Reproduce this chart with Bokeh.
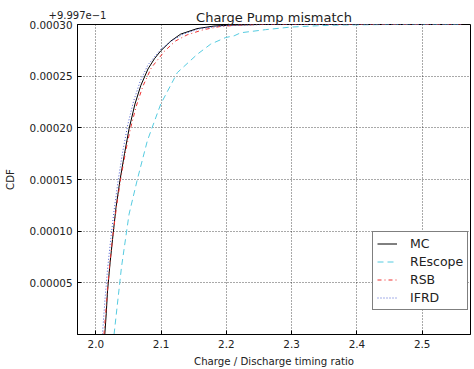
import json
from bokeh.plotting import figure
from bokeh.models import (Range1d, FixedTicker, PrintfTickFormatter, Legend, LegendItem,
                          LinearAxis, CustomJSTickFormatter)
from bokeh.embed import file_html
from bokeh.resources import INLINE

FONT = "DejaVu Sans"

title_text = "Charge Pump mismatch"
x_label = "Charge / Discharge timing ratio"
y_label = "CDF"
offset_text = "+9.997e\u22121"

x_ticks = [2.0, 2.1, 2.2, 2.3, 2.4, 2.5]
y_ticks = [0.00005, 0.00010, 0.00015, 0.00020, 0.00025, 0.00030]

# CDF values shown relative to the offset 0.9997
mc_x = [2.0138, 2.016, 2.018, 2.022, 2.0265, 2.031, 2.037, 2.044, 2.051, 2.060, 2.069, 2.080,
        2.090, 2.0995, 2.115, 2.130, 2.155, 2.181, 2.21, 2.25, 2.30, 2.40, 2.56]
mc_y = [0.0, 2.0e-5, 4.2e-5, 7.0e-5, 9.7e-5, 12.3e-5, 14.9e-5, 17.5e-5, 19.9e-5, 22.3e-5, 24.1e-5,
        25.7e-5, 26.7e-5, 27.45e-5, 28.4e-5, 29.07e-5, 29.6e-5, 29.85e-5, 29.95e-5, 30.0e-5, 30.0e-5,
        30.0e-5, 30.0e-5]

rescope_x = [2.028, 2.0393, 2.051, 2.0638, 2.079, 2.0995, 2.125, 2.1557, 2.176, 2.199, 2.2118,
             2.222, 2.26, 2.2986, 2.34, 2.375, 2.45, 2.56]
rescope_y = [0.0, 6.48e-5, 11.65e-5, 15.04e-5, 18.75e-5, 22.3e-5, 25.35e-5, 27.13e-5, 28.1e-5, 28.74e-5,
             28.9e-5, 29.2e-5, 29.5e-5, 29.75e-5, 29.88e-5, 29.95e-5, 30.0e-5, 30.0e-5]

rsb_x = [2.0125, 2.017, 2.021, 2.026, 2.032, 2.038, 2.046, 2.053, 2.062, 2.072, 2.085, 2.105,
         2.122, 2.140, 2.165, 2.19, 2.22, 2.25, 2.40, 2.56]
rsb_y = [0.0, 3.5e-5, 6.5e-5, 9.5e-5, 12.5e-5, 15.0e-5, 17.8e-5, 19.9e-5, 22.1e-5, 24.0e-5, 25.8e-5,
         27.4e-5, 28.4e-5, 29.0e-5, 29.5e-5, 29.8e-5, 29.95e-5, 30.0e-5, 30.0e-5, 30.0e-5]

ifrd_x = [2.0102, 2.014, 2.018, 2.023, 2.028, 2.034, 2.041, 2.049, 2.058, 2.068, 2.080, 2.0995,
          2.118, 2.135, 2.16, 2.19, 2.22, 2.26, 2.40, 2.56]
ifrd_y = [0.0, 3.3e-5, 6.3e-5, 9.3e-5, 12.0e-5, 14.8e-5, 17.6e-5, 20.3e-5, 22.6e-5, 24.5e-5, 26.1e-5,
          27.6e-5, 28.5e-5, 29.1e-5, 29.6e-5, 29.85e-5, 29.95e-5, 30.0e-5, 30.0e-5, 30.0e-5]

x_min, x_max = 1.972, 2.574
y_min, y_max = 0.0, 0.0003

p = figure(width=474, height=369, output_backend="svg", toolbar_location=None, title=None,
           x_range=Range1d(x_min, x_max), y_range=Range1d(y_min, y_max),
           min_border_left=77, min_border_right=4, min_border_top=24, min_border_bottom=35)
p.background_fill_color = "white"
p.border_fill_color = "white"
p.outline_line_color = "black"
p.outline_line_width = 1

for ax in (p.xaxis[0], p.yaxis[0]):
    ax.major_label_text_font = FONT
    ax.major_label_text_font_size = "10.4px"
    ax.major_label_text_color = "#222222"
    ax.axis_label_text_font = FONT
    ax.axis_label_text_font_size = "10.2px"
    ax.axis_label_text_font_style = "normal"
    ax.axis_label_text_color = "#222222"
    ax.major_tick_in = 4
    ax.major_tick_out = 0
    ax.minor_tick_in = 0
    ax.minor_tick_out = 0
    ax.axis_line_color = "black"
    ax.major_tick_line_color = "black"
    ax.major_label_standoff = 5

p.xaxis[0].ticker = FixedTicker(ticks=x_ticks)
p.xaxis[0].formatter = PrintfTickFormatter(format="%.1f")
p.xaxis[0].axis_label = x_label
p.xaxis[0].axis_label_standoff = 5
p.yaxis[0].ticker = FixedTicker(ticks=y_ticks)
p.yaxis[0].formatter = PrintfTickFormatter(format="%.5f")
p.yaxis[0].axis_label = y_label
p.yaxis[0].axis_label_standoff = 11

# top: offset text (as a tick label at the left edge) and the title (as the axis label)
top = LinearAxis(ticker=FixedTicker(ticks=[x_min]),
                 formatter=CustomJSTickFormatter(code="return " + json.dumps(offset_text) + ";"),
                 axis_label=title_text)
top.axis_line_color = None
top.major_tick_in = 0
top.major_tick_out = 0
top.minor_tick_in = 0
top.minor_tick_out = 0
top.major_label_text_align = "left"
top.major_label_text_font = FONT
top.major_label_text_font_size = "10px"
top.major_label_text_color = "#222222"
top.major_label_standoff = 6
top.axis_label_text_font = FONT
top.axis_label_text_font_size = "13px"
top.axis_label_text_font_style = "normal"
top.axis_label_text_color = "#222222"
top.axis_label_standoff = -17
p.add_layout(top, "above")

for g in (p.xgrid[0], p.ygrid[0]):
    g.grid_line_color = "black"
    g.grid_line_dash = "1 2"
    g.grid_line_width = 0.8
    g.grid_line_alpha = 0.85

r_mc = p.line(mc_x, mc_y, line_color="black", line_width=1.0)
r_re = p.line(rescope_x, rescope_y, line_color="#55cbe0", line_width=1.0, line_dash="6 4")
r_rsb = p.line(rsb_x, rsb_y, line_color="#ee3333", line_width=1.0, line_dash="4 3 1 3")
r_if = p.line(ifrd_x, ifrd_y, line_color="#4a5cd0", line_width=1.0, line_dash="1 2")

legend = Legend(items=[LegendItem(label="MC", renderers=[r_mc]),
                       LegendItem(label="REscope", renderers=[r_re]),
                       LegendItem(label="RSB", renderers=[r_rsb]),
                       LegendItem(label="IFRD", renderers=[r_if])],
                location=(295, 24))
legend.label_text_font = FONT
legend.label_text_font_size = "12.5px"
legend.label_text_color = "#222222"
legend.border_line_color = "black"
legend.border_line_width = 1
legend.background_fill_color = "white"
legend.background_fill_alpha = 1
legend.padding = 4
legend.margin = 0
legend.spacing = 3
legend.glyph_width = 20
legend.glyph_height = 15
legend.label_height = 15
legend.label_standoff = 13
p.add_layout(legend, "center")

open("out.html", "w").write(file_html(p, INLINE))
